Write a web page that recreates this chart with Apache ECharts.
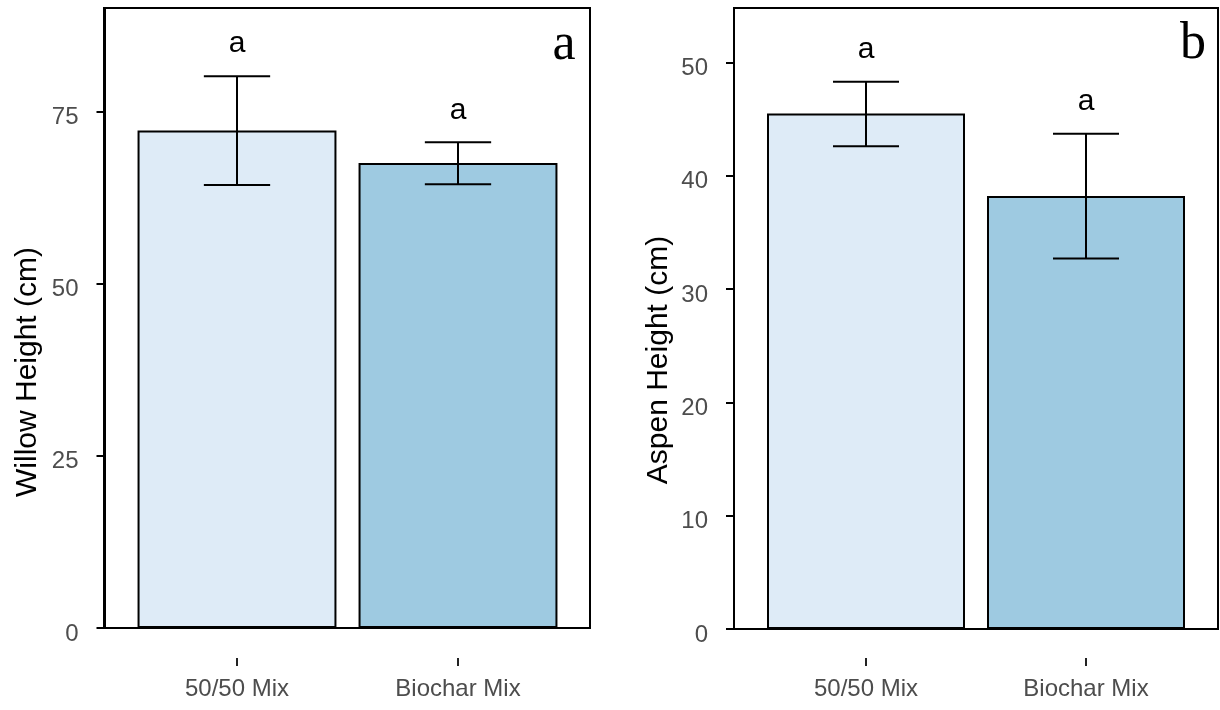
<!DOCTYPE html>
<html>
<head>
<meta charset="utf-8">
<script src="https://cdn.jsdelivr.net/npm/echarts@6/dist/echarts.min.js"></script>
<style>
html,body{margin:0;padding:0;background:#fff;}
#chart{width:1220px;height:710px;}
</style>
</head>
<body>
<div id="chart"></div>
<script>
// ---- data ----
const categories = ['50/50 Mix', 'Biochar Mix'];
const barColors = ['#deebf7', '#9ecae1'];

const willowMean = [72.2, 67.5];
const willowLow = [64.3, 64.4];
const willowHigh = [80.1, 70.5];
const willowSig = ['a', 'a'];

const aspenMean = [45.5, 38.2];
const aspenLow = [42.6, 32.7];
const aspenHigh = [48.3, 43.7];
const aspenSig = ['a', 'a'];

const willowTicks = { min: 0, max: 90, interval: 25 };
const aspenTicks = { min: 0, max: 54.8, interval: 10 };

const FONT = '"Liberation Sans", Arial, sans-serif';
const SERIF = '"Liberation Serif", "Times New Roman", serif';

function yAxisCfg(idx, ticks) {
  return {
    type: 'value', gridIndex: idx, min: ticks.min, max: ticks.max, interval: ticks.interval,
    offset: 22,
    axisLine: { show: true, lineStyle: { color: '#000', width: 2 } },
    axisTick: { show: true, length: 8, lineStyle: { color: '#000', width: 2 } },
    axisLabel: {
      fontFamily: FONT, fontSize: 24, margin: 26, showMaxLabel: false,
      formatter: '{v|{value}}',
      rich: { v: { color: '#4d4d4d', fontFamily: FONT, fontSize: 24, padding: [12, 0, 0, 0] } }
    },
    splitLine: { show: false }
  };
}
function xMainAxis(idx) {
  return {
    type: 'category', gridIndex: idx, data: categories,
    axisLine: { show: false }, axisTick: { show: false }, axisLabel: { show: false }
  };
}
function xLabelAxis(idx) {
  return {
    type: 'category', gridIndex: idx, data: categories,
    axisLine: { show: false },
    axisTick: { show: true, alignWithLabel: true, length: 8, lineStyle: { color: '#222', width: 2 } },
    axisLabel: { color: '#4d4d4d', fontFamily: FONT, fontSize: 24, margin: 19 }
  };
}
function hiddenY(idx) {
  return { type: 'value', gridIndex: idx, show: false };
}
function barSeries(idx, mean) {
  return {
    type: 'bar', xAxisIndex: idx, yAxisIndex: idx,
    barCategoryGap: '10%',
    data: mean.map((v, i) => ({ value: v, itemStyle: { color: barColors[i] } })),
    itemStyle: { borderColor: '#000', borderWidth: 2 },
    silent: true
  };
}
function errSeries(idx, low, high, sig) {
  return {
    type: 'custom', xAxisIndex: idx, yAxisIndex: idx,
    data: low.map((l, i) => [i, l, high[i], sig[i]]),
    renderItem: function (params, api) {
      const x = api.value(0);
      const lo = api.coord([x, api.value(1)]);
      const hi = api.coord([x, api.value(2)]);
      const half = api.size([1, 0])[0] * 0.15;
      const st = { stroke: '#000', lineWidth: 2 };
      return {
        type: 'group',
        children: [
          { type: 'line', shape: { x1: lo[0], y1: lo[1], x2: hi[0], y2: hi[1] }, style: st },
          { type: 'line', shape: { x1: lo[0] - half, y1: lo[1], x2: lo[0] + half, y2: lo[1] }, style: st },
          { type: 'line', shape: { x1: hi[0] - half, y1: hi[1], x2: hi[0] + half, y2: hi[1] }, style: st },
          { type: 'text', x: hi[0], y: hi[1] - 32,
            style: { text: sig[params.dataIndex], fill: '#000', font: '30px ' + FONT, align: 'center', verticalAlign: 'middle' } }
        ]
      };
    },
    silent: true,
    z: 5
  };
}

const chart = echarts.init(document.getElementById('chart'), null, { renderer: 'canvas' });
chart.setOption({
  animation: false,
  backgroundColor: '#fff',
  grid: [
    { left: 126.5, width: 442, top: 8, bottom: 82 },
    { left: 756, width: 440, top: 8, bottom: 81 },
    { left: 126.5, width: 442, top: 650, height: 8 },
    { left: 756, width: 440, top: 650, height: 8 }
  ],
  xAxis: [xMainAxis(0), xMainAxis(1), xLabelAxis(2), xLabelAxis(3)],
  yAxis: [
    yAxisCfg(0, willowTicks),
    yAxisCfg(1, aspenTicks),
    hiddenY(2), hiddenY(3)
  ],
  series: [
    barSeries(0, willowMean), errSeries(0, willowLow, willowHigh, willowSig),
    barSeries(1, aspenMean), errSeries(1, aspenLow, aspenHigh, aspenSig)
  ],
  graphic: [
    { type: 'rect', shape: { x: 104, y: 8, width: 486, height: 620 }, style: { fill: 'none', stroke: '#000', lineWidth: 2 }, z: 10, silent: true },
    { type: 'rect', shape: { x: 734, y: 8, width: 484, height: 621 }, style: { fill: 'none', stroke: '#000', lineWidth: 2 }, z: 10, silent: true },
    { type: 'text', x: 564, y: 71, style: { text: 'a', font: '52px ' + SERIF, fill: '#000', align: 'center', verticalAlign: 'bottom' }, z: 10 },
    { type: 'text', x: 1193, y: 70, style: { text: 'b', font: '52px ' + SERIF, fill: '#000', align: 'center', verticalAlign: 'bottom' }, z: 10 },
    { type: 'text', x: 28, y: 372, rotation: Math.PI / 2, style: { text: 'Willow Height (cm)', font: '30px ' + FONT, fill: '#000', align: 'center', verticalAlign: 'middle' } },
    { type: 'text', x: 659, y: 360, rotation: Math.PI / 2, style: { text: 'Aspen Height (cm)', font: '30px ' + FONT, fill: '#000', align: 'center', verticalAlign: 'middle' } }
  ]
});
</script>
</body>
</html>
